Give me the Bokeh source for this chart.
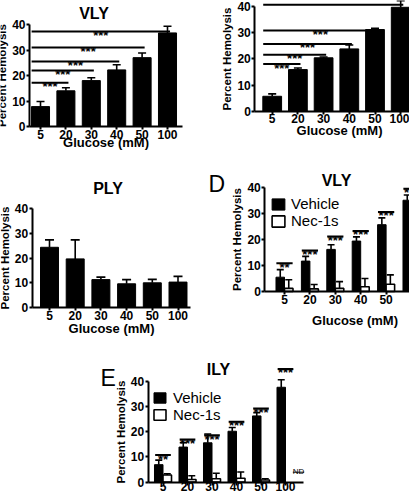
from bokeh.plotting import figure
from bokeh.models import (ColumnDataSource, FixedTicker, Whisker, TeeHead, Label,
                          Legend, LegendItem, Range1d)
from bokeh.layouts import row, column
from bokeh.core.properties import value
from bokeh.embed import file_html
from bokeh.resources import INLINE

FONT = "Liberation Sans"

glucose = ["5", "20", "30", "40", "50", "100"]
y_ticks = [0, 10, 20, 30, 40]

# Panel A: VLY (top left)
a_mean = [7.8, 14.0, 18.0, 22.2, 27.0, 36.7]
a_err = [2.0, 1.2, 1.1, 2.0, 1.8, 2.6]
a_pairs = [(0, 1), (0, 2), (0, 3), (0, 4), (0, 5)]
a_sig_y = [17.2, 22.0, 25.5, 31.0, 37.3]
a_sig_txt = ["***", "***", "***", "***", "***"]

# Panel B (top right; its title and the top star row are cropped away)
b_mean = [5.7, 15.9, 20.4, 23.8, 31.2, 39.7]
b_err = [0.9, 0.6, 0.3, 1.5, 0.5, 2.5]
b_pairs = [(0, 1), (0, 2), (0, 3), (0, 4), (0, 5)]
b_sig_y = [18.0, 21.6, 25.7, 30.8, 40.7]
b_sig_txt = ["***", "***", "***", "***", ""]

# Panel C: PLY
c_mean = [24.4, 19.7, 11.3, 9.6, 10.0, 10.3]
c_err = [3.0, 7.7, 1.0, 1.7, 1.4, 2.3]

# Panel D: VLY, Vehicle vs Nec-1s
d_veh = [5.5, 11.7, 16.2, 19.4, 25.7, 35.1]
d_veh_err = [2.9, 1.8, 1.8, 1.6, 2.6, 2.0]
d_nec = [1.2, 1.0, 1.2, 1.8, 2.8, 2.0]
d_nec_err = [3.3, 1.7, 2.6, 3.2, 3.6, 2.0]
d_sig_y = [10.9, 15.8, 21.2, 23.3, 30.6, 39.5]
d_sig_txt = ["**", "***", "***", "***", "***", "***"]

# Panel E: ILY, Vehicle vs Nec-1s (None = ND, not detected)
e_veh = [6.9, 13.9, 15.6, 20.2, 26.3, 37.7]
e_veh_err = [1.8, 1.7, 3.5, 1.5, 1.3, 3.0]
e_nec = [2.8, 1.0, 1.3, 1.5, 0.8, None]
e_nec_err = [0.5, 1.5, 2.2, 2.5, 0.5, None]
e_sig_y = [10.7, 16.9, 18.6, 24.0, 29.3, 45.0]
e_sig_txt = ["**", "***", "***", "***", "***", "***"]
e_nd_y = 4.3


class Geo:
    """Pixel layout of one panel: size, axis position/extent, first bar centre, bar pitch,
    pixel rows of y=0 and y=40."""
    def __init__(self, W, H, axis_x, axis_end, y0, y40, c0, sp):
        self.W, self.H = W, H
        self.axis_x, self.axis_end = axis_x, axis_end
        self.y0 = y0
        self.ppu = (y0 - y40) / 40.0
        self.c0, self.sp = c0, sp

    def dx(self, px):
        return (px - self.c0) / self.sp

    def dy(self, py):
        return (self.y0 - py) / self.ppu


def make_fig(g, xlabel=None, xlab_standoff=0, tick_standoff=0):
    p = figure(width=g.W, height=g.H,
               x_range=Range1d(g.dx(0), g.dx(g.W)),
               y_range=Range1d(g.dy(g.H), g.dy(0)),
               output_backend="svg", toolbar_location=None,
               min_border=0, min_border_left=0, min_border_right=0,
               min_border_top=0, min_border_bottom=0)
    p.outline_line_color = None
    p.grid.visible = False
    p.background_fill_color = "white"
    p.border_fill_color = "white"
    xa, ya = p.xaxis[0], p.yaxis[0]
    xa.fixed_location = 0
    xa.bounds = (g.dx(g.axis_x), g.dx(g.axis_end))
    ya.fixed_location = g.dx(g.axis_x)
    ya.bounds = (0, 40)
    xa.ticker = FixedTicker(ticks=list(range(len(glucose))))
    xa.major_label_overrides = {i: lab for i, lab in enumerate(glucose)}
    ya.ticker = FixedTicker(ticks=y_ticks)
    for ax in (xa, ya):
        ax.axis_line_width = 2
        ax.axis_line_color = "black"
        ax.major_tick_line_width = 2
        ax.major_tick_line_color = "black"
        ax.major_tick_out = 3
        ax.major_tick_in = 0
        ax.minor_tick_line_color = None
        ax.major_label_text_font = FONT
        ax.major_label_text_font_style = "bold"
        ax.major_label_text_font_size = "12px"
        ax.major_label_text_color = "black"
        ax.axis_label_text_font = FONT
        ax.axis_label_text_font_style = "bold"
        ax.axis_label_text_color = "black"
    xa.major_label_standoff = tick_standoff
    ya.major_label_standoff = 1
    ya.axis_label = "Percent Hemolysis"
    ya.axis_label_text_font_size = "11.5px"
    ya.axis_label_standoff = 1
    if xlabel:
        xa.axis_label = xlabel
        xa.axis_label_text_font_size = "13px"
        xa.axis_label_standoff = xlab_standoff
    return p


def add_label(p, x, y, text, size, bold=True, align="center"):
    p.add_layout(Label(x=x, y=y, text=text, text_font=FONT,
                       text_font_style="bold" if bold else "normal",
                       text_font_size=size, text_align=align,
                       text_baseline="alphabetic", text_color="black"))


def whisker(p, xs, lo, hi, head):
    src = ColumnDataSource(dict(x=xs, lo=lo, hi=hi))
    p.add_layout(Whisker(source=src, base="x", lower="lo", upper="hi",
                         line_color="black", line_width=1.6,
                         upper_head=TeeHead(size=head, line_width=1.6, line_color="black"),
                         lower_head=None))


def single_bars(p, means, errs, width, head):
    xs = list(range(len(means)))
    p.vbar(x=xs, top=means, bottom=0, width=width, fill_color="black", line_color="black")
    whisker(p, xs, means, [m + e for m, e in zip(means, errs)], head)


def pair_sig(p, pairs, ys, texts):
    x0 = [a - 0.35 for a, b in pairs]
    x1 = [b + 0.1 for a, b in pairs]
    p.segment(x0=x0, y0=ys, x1=x1, y1=ys, line_color="black", line_width=2)
    xm = [(u + v) / 2 for u, v in zip(x0, x1)]
    p.text(x=xm, y=ys, text=texts, text_font=value(FONT), text_font_style="bold",
           text_font_size="13px", text_align="center", text_baseline="alphabetic",
           y_offset=4, text_color="black")


def group_bars(p, veh, veh_err, nec, nec_err, w, head):
    n = len(veh)
    xv = [k - w / 2 for k in range(n)]
    rv = p.vbar(x=xv, top=veh, bottom=0, width=w, fill_color="black", line_color="black")
    whisker(p, xv, veh, [m + e for m, e in zip(veh, veh_err)], head)
    idx = [k for k in range(n) if nec[k] is not None]
    xn = [k + w / 2 for k in idx]
    nv = [nec[k] for k in idx]
    ne = [nec_err[k] for k in idx]
    rn = p.vbar(x=xn, top=nv, bottom=0, width=w, fill_color="white", line_color="black",
                line_width=1.6)
    whisker(p, xn, nv, [m + e for m, e in zip(nv, ne)], head)
    return rv, rn


def group_sig(p, ys, texts):
    xs = list(range(len(ys)))
    p.segment(x0=[k - 0.32 for k in xs], y0=ys, x1=[k + 0.32 for k in xs], y1=ys,
              line_color="black", line_width=2)
    p.text(x=xs, y=ys, text=texts, text_font=value(FONT), text_font_style="bold",
           text_font_size="13px", text_align="center", text_baseline="alphabetic",
           y_offset=4, text_color="black")


def add_legend(p, rv, rn, loc, gw, gh, standoff):
    lg = Legend(items=[LegendItem(label="Vehicle", renderers=[rv]),
                       LegendItem(label="Nec-1s", renderers=[rn])],
                location=loc, padding=0, margin=0, spacing=0,
                glyph_width=gw, glyph_height=gh, label_height=17, label_standoff=standoff,
                label_text_font=FONT, label_text_font_size="15px",
                label_text_color="black",
                border_line_color=None, background_fill_alpha=0)
    p.add_layout(lg)


# ---- Panel A (VLY)
gA = Geo(W=205, H=152, axis_x=29, axis_end=182, y0=126, y40=24, c0=40, sp=25.4)
pA = make_fig(gA, "Glucose (mM)", -7)
single_bars(pA, a_mean, a_err, 0.71, 8)
pair_sig(pA, a_pairs, a_sig_y, a_sig_txt)
add_label(pA, gA.dx(93.5), gA.dy(12.5), "VLY", "16px")

# ---- Panel B
gB = Geo(W=204, H=152, axis_x=49.3, axis_end=204, y0=110.7, y40=6, c0=66.7, sp=25.7)
pB = make_fig(gB)
single_bars(pB, b_mean, b_err, 0.73, 8)
pair_sig(pB, b_pairs, b_sig_y, b_sig_txt)
add_label(pB, gB.dx(134), gB.dy(130), "Glucose (mM)", "13px")

# ---- Panel C (PLY)
gC = Geo(W=205, H=193, axis_x=31.7, axis_end=190, y0=155, y40=56.3, c0=49, sp=25.7)
pC = make_fig(gC, "Glucose (mM)", -2)
single_bars(pC, c_mean, c_err, 0.70, 9)
add_label(pC, gC.dx(107.5), gC.dy(36), "PLY", "16px")

# ---- Panel D (VLY, Vehicle vs Nec-1s)
gD = Geo(W=204, H=193, axis_x=59.3, axis_end=204, y0=139, y40=35, c0=79, sp=25.4)
pD = make_fig(gD)
rv, rn = group_bars(pD, d_veh, d_veh_err, d_nec, d_nec_err, 0.335, 7)
group_sig(pD, d_sig_y, d_sig_txt)
add_legend(pD, rv, rn, (65, 116), 16, 14, 5)
add_label(pD, gD.dx(149.5), gD.dy(168), "Glucose (mM)", "13px")
add_label(pD, gD.dx(3), gD.dy(31), "D", "23px", bold=False, align="left")
add_label(pD, gD.dx(131), gD.dy(28), "VLY", "16px")

# ---- Panel E (ILY, Vehicle vs Nec-1s)
gE = Geo(W=409, H=152, axis_x=147.7, axis_end=303, y0=136.5, y40=36, c0=162.5, sp=24.5)
pE = make_fig(gE, tick_standoff=-3)
rv, rn = group_bars(pE, e_veh, e_veh_err, e_nec, e_nec_err, 0.347, 7)
group_sig(pE, e_sig_y, e_sig_txt)
add_legend(pE, rv, rn, (152, 74), 15, 13, 6)
nd_idx = [k for k in range(len(e_nec)) if e_nec[k] is None]
pE.text(x=[k + 0.53 for k in nd_idx], y=[e_nd_y] * len(nd_idx), text=["ND"] * len(nd_idx),
        text_font=value(FONT), text_font_size="8px", text_align="center",
        text_baseline="alphabetic", text_color="black")
pE.segment(x0=[k + 0.3 for k in nd_idx], y0=[e_nd_y - 0.4] * len(nd_idx),
           x1=[k + 0.76 for k in nd_idx], y1=[e_nd_y - 0.4] * len(nd_idx),
           line_color="black", line_width=1)
add_label(pE, gE.dx(100), gE.dy(32), "E", "23px", bold=False, align="left")
add_label(pE, gE.dx(218), gE.dy(23.5), "ILY", "16px")

layout = column(
    row(column(pA), column(pB), spacing=0),
    row(column(pC), column(pD), spacing=0),
    column(pE),
    spacing=0,
)

open("out.html", "w").write(file_html(layout, INLINE))
